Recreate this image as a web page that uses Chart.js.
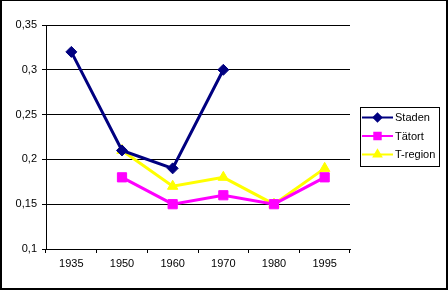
<!DOCTYPE html>
<html>
<head>
<meta charset="utf-8">
<script src="https://cdn.jsdelivr.net/npm/chart.js@4"></script>
<style>
  html, body { margin: 0; padding: 0; background: #fff; }
  #wrap { width: 448px; height: 290px; position: relative; }
</style>
</head>
<body>
<div id="wrap"><canvas id="chart" width="448" height="290"></canvas></div>
<script>
const years = ['1935', '1950', '1960', '1970', '1980', '1995'];
const staden = [0.32, 0.21, 0.19, 0.30, null, null];
const tatort = [null, 0.18, 0.15, 0.16, 0.15, 0.18];
const tregion = [null, 0.21, 0.17, 0.18, 0.15, 0.19];
const yTicks = [0.1, 0.15, 0.2, 0.25, 0.3, 0.35];

const FONT = { family: '"Liberation Sans", Arial, sans-serif', size: 11 };

// legend box + outer frame, drawn on the canvas
const frameAndLegend = {
  id: 'frameAndLegend',
  afterDraw(chart) {
    const ctx = chart.ctx;
    ctx.save();
    ctx.fillStyle = '#000';
    ctx.fillRect(0, 0, 448, 1);
    ctx.fillRect(0, 0, 2, 290);
    ctx.fillRect(446, 0, 2, 290);
    ctx.fillRect(0, 288, 448, 2);

    ctx.strokeStyle = '#000';
    ctx.lineWidth = 1;
    ctx.strokeRect(360.5, 107.5, 79, 59);

    const rows = [117.5, 136, 154.5];
    ctx.font = '11px "Liberation Sans", Arial, sans-serif';
    ctx.textBaseline = 'middle';
    chart.data.datasets.forEach((ds, i) => {
      const y = rows[i];
      ctx.strokeStyle = ds.borderColor;
      ctx.lineWidth = 2;
      ctx.beginPath();
      ctx.moveTo(362, y);
      ctx.lineTo(393, y);
      ctx.stroke();
      ctx.fillStyle = ds.borderColor;
      Chart.helpers.drawPoint(ctx, {
        pointStyle: ds.pointStyle, radius: ds.pointRadius * 0.7, borderWidth: 1,
      }, 377.5, y);
      ctx.fill();
      ctx.fillStyle = '#000';
      ctx.fillText(ds.label, 395, y + 0.5);
    });
    ctx.restore();
  },
};

new Chart(document.getElementById('chart'), {
  type: 'line',
  data: {
    labels: years,
    datasets: [
      { label: 'Staden', data: staden, borderColor: '#000080', backgroundColor: '#000080',
        pointStyle: 'rectRot', pointRadius: 5.5, borderWidth: 3, pointBorderWidth: 1 },
      { label: 'Tätort', data: tatort, borderColor: '#ff00ff', backgroundColor: '#ff00ff',
        pointStyle: 'rect', pointRadius: 6.5, borderWidth: 3, pointBorderWidth: 1 },
      { label: 'T-region', data: tregion, borderColor: '#ffff00', backgroundColor: '#ffff00',
        pointStyle: 'triangle', pointRadius: 6, borderWidth: 3, pointBorderWidth: 1 },
    ],
  },
  options: {
    responsive: false,
    animation: false,
    spanGaps: false,
    layout: { padding: { top: 25, right: 98, left: 0, bottom: 0 } },
    plugins: { legend: { display: false }, tooltip: { enabled: false } },
    elements: { line: { tension: 0 } },
    scales: {
      x: {
        offset: true,
        grid: { drawOnChartArea: false, color: '#000', tickLength: 4, offset: true },
        border: { color: '#000', width: 1 },
        ticks: { color: '#000', font: FONT, padding: 4, maxRotation: 0 },
        afterFit(scale) { scale.height = 41; },
      },
      y: {
        min: 0.1,
        max: 0.35,
        grid: { color: '#000', tickLength: 4 },
        border: { color: '#000', width: 1 },
        afterBuildTicks(scale) { scale.ticks = yTicks.map((v) => ({ value: v })); },
        ticks: {
          color: '#000', font: FONT, padding: 5,
          callback: (v) => String(Math.round(v * 100) / 100).replace('.', ','),
        },
        afterFit(scale) { scale.width = 46; },
      },
    },
  },
  plugins: [frameAndLegend],
});
</script>
</body>
</html>
